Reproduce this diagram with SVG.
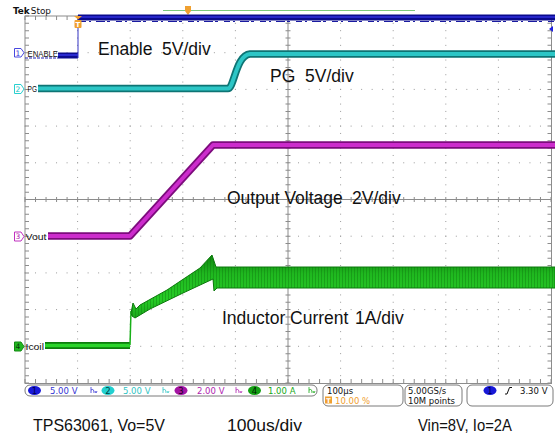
<svg xmlns="http://www.w3.org/2000/svg" width="555" height="435" viewBox="0 0 555 435">
<style>
.dotv{stroke:#9a9a9a;stroke-width:1;stroke-dasharray:1 6.34;fill:none}
.doth{stroke:#9a9a9a;stroke-width:1;stroke-dasharray:1 9.52;fill:none}
.axis{stroke:#8c8c8c;stroke-width:1;fill:none}
.tickh{stroke:#8c8c8c;stroke-width:5;stroke-dasharray:1 9.52;fill:none}
.tickv{stroke:#8c8c8c;stroke-width:5;stroke-dasharray:1 6.34;fill:none}
.btickh{stroke:#8c8c8c;stroke-width:4;stroke-dasharray:1 9.52;fill:none}
.btickv{stroke:#8c8c8c;stroke-width:4;stroke-dasharray:1 6.34;fill:none}
.ann{font-family:"Liberation Sans",Arial,sans-serif;font-size:17.5px;fill:#111}
.foot{font-family:"Liberation Sans",Arial,sans-serif;font-size:16.5px;fill:#111}
.lbl{font-family:"Liberation Sans",Arial,sans-serif;font-size:9px;fill:#111}
.st{font-family:"DejaVu Sans",Verdana,sans-serif;font-size:8.5px}
.box{fill:#fff;stroke:#7a7a7a;stroke-width:1}
.mk{font-family:"DejaVu Sans",sans-serif;font-size:7.5px;text-anchor:middle}
</style>
<defs>
<linearGradient id="gband" x1="0" y1="0" x2="0" y2="1">
<stop offset="0" stop-color="#0e850e"/>
<stop offset="0.3" stop-color="#1fb81f"/>
<stop offset="0.7" stop-color="#26cc26"/>
<stop offset="1" stop-color="#1aa81a"/>
</linearGradient>
<pattern id="hatch" width="3" height="4" patternUnits="userSpaceOnUse">
<rect x="0" y="0" width="1" height="4" fill="#0a6a0a" opacity="0.35"/>
</pattern>
</defs>
<rect width="555" height="435" fill="#ffffff"/>

<g id="graticule">
<line class="dotv" x1="77.6" y1="15.5" x2="77.6" y2="384"/>
<line class="dotv" x1="130.2" y1="15.5" x2="130.2" y2="384"/>
<line class="dotv" x1="182.8" y1="15.5" x2="182.8" y2="384"/>
<line class="dotv" x1="235.4" y1="15.5" x2="235.4" y2="384"/>
<line class="dotv" x1="340.6" y1="15.5" x2="340.6" y2="384"/>
<line class="dotv" x1="393.2" y1="15.5" x2="393.2" y2="384"/>
<line class="dotv" x1="445.8" y1="15.5" x2="445.8" y2="384"/>
<line class="dotv" x1="498.4" y1="15.5" x2="498.4" y2="384"/>
<line class="doth" x1="24.5" y1="52.7" x2="552" y2="52.7"/>
<line class="doth" x1="24.5" y1="89.4" x2="552" y2="89.4"/>
<line class="doth" x1="24.5" y1="126.1" x2="552" y2="126.1"/>
<line class="doth" x1="24.5" y1="162.8" x2="552" y2="162.8"/>
<line class="doth" x1="24.5" y1="236.2" x2="552" y2="236.2"/>
<line class="doth" x1="24.5" y1="272.9" x2="552" y2="272.9"/>
<line class="doth" x1="24.5" y1="309.6" x2="552" y2="309.6"/>
<line class="doth" x1="24.5" y1="346.3" x2="552" y2="346.3"/>
<line class="axis" x1="25" y1="199.5" x2="551" y2="199.5"/>
<line class="axis" x1="288" y1="16" x2="288" y2="383"/>
<line class="tickh" x1="24.5" y1="199.5" x2="552" y2="199.5"/>
<line class="tickv" x1="288" y1="15.5" x2="288" y2="384"/>
<rect x="25" y="16" width="526.5" height="367.5" fill="none" stroke="#8c8c8c" stroke-width="1"/>
<line class="btickv" x1="27" y1="15.5" x2="27" y2="384"/>
<line class="btickv" x1="549.5" y1="15.5" x2="549.5" y2="384"/>
<line class="btickh" x1="24.5" y1="381" x2="552" y2="381"/>
<line class="btickh" x1="24.5" y1="18" x2="552" y2="18"/>
</g>

<g id="header">
<text x="13" y="13.5" font-family="DejaVu Sans Condensed,DejaVu Sans,sans-serif" font-size="9.5" fill="#111" textLength="38" lengthAdjust="spacingAndGlyphs"><tspan font-weight="bold">Tek</tspan><tspan dx="1">Stop</tspan></text>
<line x1="163" y1="10.5" x2="415" y2="10.5" stroke="#7cc87c" stroke-width="1"/>
<path d="M185 6 H191 V11 L188 15 L185 11 Z" fill="#f0a030"/>
<path d="M549 29 L553 26 L553 32 Z" fill="#2020e0"/>
</g>

<g id="ch1-enable">
<line x1="25" y1="58" x2="58" y2="58" stroke="#2020b0" stroke-width="1.2" stroke-dasharray="3 1"/>
<rect x="58" y="52.5" width="20" height="6" fill="#0c0c90"/>
<rect x="58" y="54" width="20" height="2" fill="#2a2ad0"/>
<line x1="78" y1="58" x2="78" y2="17" stroke="#3434c4" stroke-width="1"/>
<rect x="78" y="14.5" width="477" height="6" fill="#0a0a8e"/>
<rect x="78" y="16" width="477" height="2" fill="#2626c8"/>
<line x1="80" y1="21.5" x2="555" y2="21.5" stroke="#1a1aa0" stroke-width="1.2" stroke-dasharray="6 3 2 5 9 2 3 6"/>
<path d="M74 16 H82 L78 19.5 Z" fill="#f0a030"/>
<rect x="74.5" y="20" width="7" height="8" rx="1" fill="#f0a030"/>
<text x="78" y="26.8" font-family="DejaVu Sans,sans-serif" font-size="7" font-weight="bold" fill="#fff" text-anchor="middle">T</text>
<path d="M14.5 48.5 H21 L24 52.7 L21 57 H14.5 Z" fill="#fff" stroke="#4848e0" stroke-width="1"/>
<text class="mk" x="18" y="55.5" fill="#3a3ad8">1</text>
<text class="lbl" x="27.5" y="56.5" textLength="30.5" lengthAdjust="spacingAndGlyphs">ENABLE</text>
</g>

<g id="ch2-pg">
<path d="M38 88.5 H228 C234 88.5 236 55 250 54 H555" fill="none" stroke="#0e7474" stroke-width="7.5"/>
<path d="M38 88.5 H228 C234 88.5 236 55 250 54 H555" fill="none" stroke="#2cc6c6" stroke-width="4"/>
<path d="M14.5 84.5 H21 L24 89 L21 93.5 H14.5 Z" fill="#fff" stroke="#28d0d0" stroke-width="1"/>
<text class="mk" x="18" y="92" fill="#20c0c0">2</text>
<text class="lbl" x="27.5" y="92.3" textLength="9.5" lengthAdjust="spacingAndGlyphs">PG</text>
</g>

<g id="ch3-vout">
<path d="M48 236 H130 L213 145 H555" fill="none" stroke="#7c0c7c" stroke-width="7.5" stroke-linejoin="round"/>
<path d="M48 236 H130 L213 145 H555" fill="none" stroke="#cc2ccc" stroke-width="4" stroke-linejoin="round"/>
<path d="M14.5 232 H21 L24 236.5 L21 241 H14.5 Z" fill="#fff" stroke="#c030c0" stroke-width="1"/>
<text class="mk" x="18" y="239.3" fill="#b020b0">3</text>
<text class="lbl" x="25.5" y="240" textLength="21" lengthAdjust="spacingAndGlyphs">Vout</text>
</g>

<g id="ch4-icoil">
<path d="M45 345.5 H130" fill="none" stroke="#0c7c0c" stroke-width="7"/>
<path d="M45 345.5 H130" fill="none" stroke="#2ad42a" stroke-width="3.5"/>
<line x1="130" y1="345" x2="131" y2="311" stroke="#18b018" stroke-width="1.5"/>
<path d="M131 313 L133 303 L136 309 L140 305 L167 290 L200 268 L212 255 L216 267 L555 267 L555 288 L217 288 L214 291 L213 279 L183 293 L150 309 L135 318 L132 316 Z" fill="url(#gband)" stroke="#0c7a0c" stroke-width="1"/>
<path d="M131 313 L133 303 L136 309 L140 305 L167 290 L200 268 L212 255 L216 267 L555 267 L555 288 L217 288 L214 291 L213 279 L183 293 L150 309 L135 318 L132 316 Z" fill="url(#hatch)"/>
<path d="M14.5 342 H21 L24 346.5 L21 351 H14.5 Z" fill="#22b822" stroke="#138a13" stroke-width="1"/>
<text class="mk" x="18" y="349.3" fill="#0a3a0a">4</text>
<text class="lbl" x="25.5" y="350" textLength="18.5" lengthAdjust="spacingAndGlyphs">Icoil</text>
</g>

<g id="annotations">
<text class="ann" x="98" y="55">Enable<tspan x="162">5V/div</tspan></text>
<text class="ann" x="270" y="82">PG<tspan x="305">5V/div</tspan></text>
<text class="ann" x="227" y="204">Output Voltage<tspan x="352">2V/div</tspan></text>
<text class="ann" x="222" y="324">Inductor Current<tspan x="355">1A/div</tspan></text>
</g>

<g id="status-bar">
<rect class="box" x="25" y="385" width="292" height="11" rx="5"/>
<ellipse cx="34.5" cy="390.5" rx="6.5" ry="4.5" fill="#1818d8"/>
<text class="st" x="34.5" y="393.5" fill="#000050" text-anchor="middle">1</text>
<text class="st" x="50" y="393.5" fill="#3434d4">5.00 V</text>
<path d="M91 387 V393 M91 390 Q94 388 94 393 M95 391 L96 393 L97 391" fill="none" stroke="#3434d4" stroke-width="0.8"/>
<ellipse cx="108" cy="390.5" rx="6.5" ry="4.5" fill="#22d0d0"/>
<text class="st" x="108" y="393.5" fill="#004040" text-anchor="middle">2</text>
<text class="st" x="123" y="393.5" fill="#30c4c4">5.00 V</text>
<path d="M163 387 V393 M163 390 Q166 388 166 393 M167 391 L168 393 L169 391" fill="none" stroke="#30c4c4" stroke-width="0.8"/>
<ellipse cx="181" cy="390.5" rx="6.5" ry="4.5" fill="#a414a4"/>
<text class="st" x="181" y="393.5" fill="#200020" text-anchor="middle">3</text>
<text class="st" x="197" y="393.5" fill="#b024b0">2.00 V</text>
<path d="M236 387 V393 M236 390 Q239 388 239 393 M240 391 L241 393 L242 391" fill="none" stroke="#b024b0" stroke-width="0.8"/>
<ellipse cx="254.5" cy="390.5" rx="6.5" ry="4.5" fill="#14a014"/>
<text class="st" x="254.5" y="393.5" fill="#002000" text-anchor="middle">4</text>
<text class="st" x="268" y="393.5" fill="#18a818">1.00 A</text>
<path d="M309 387 V393 M309 390 Q312 388 312 393 M313 391 L314 393 L315 391" fill="none" stroke="#18a818" stroke-width="0.8"/>

<rect class="box" x="323" y="385" width="80" height="21" rx="5"/>
<text class="st" x="327" y="393.5" fill="#111">100µs</text>
<rect x="325" y="396.5" width="7" height="7" fill="#f0a030"/>
<text x="328.5" y="402.5" font-family="DejaVu Sans,sans-serif" font-size="6.5" font-weight="bold" fill="#fff" text-anchor="middle">T</text>
<text class="st" x="335" y="403.5" fill="#f0a030">10.00 %</text>

<rect class="box" x="405" y="385" width="57" height="21" rx="5"/>
<text class="st" x="408" y="393.5" fill="#111">5.00GS/s</text>
<text class="st" x="408" y="403.5" fill="#111">10M points</text>

<rect class="box" x="467" y="385" width="86" height="21" rx="5"/>
<ellipse cx="490" cy="390.5" rx="6.5" ry="4.5" fill="#1818d8"/>
<text class="st" x="490" y="393.5" fill="#000050" text-anchor="middle">1</text>
<path d="M505 394 H507 L509.5 387.5 H512" fill="none" stroke="#111" stroke-width="1"/>
<text class="st" x="520" y="393.5" fill="#111">3.30 V</text>
</g>

<g id="footer">
<text class="foot" x="33" y="431" textLength="132" lengthAdjust="spacingAndGlyphs">TPS63061, Vo=5V</text>
<text class="foot" x="227" y="431" textLength="75" lengthAdjust="spacingAndGlyphs">100us/div</text>
<text class="foot" x="418" y="431" textLength="94" lengthAdjust="spacingAndGlyphs">Vin=8V, Io=2A</text>
</g>
</svg>
